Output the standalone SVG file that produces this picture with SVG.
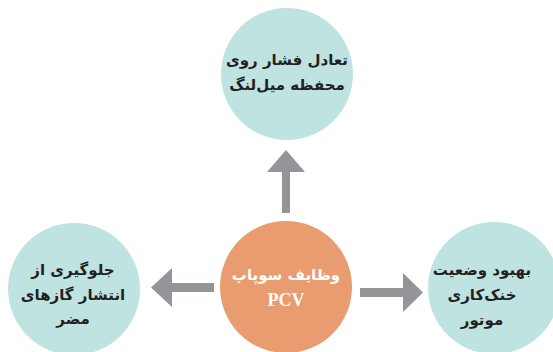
<svg xmlns="http://www.w3.org/2000/svg" width="553" height="352" viewBox="0 0 553 352">
<style>
.teal{fill:#bfe3e0}
.orange{fill:#e89c6f}
.arr{fill:#939598}
.t{font-family:"DejaVu Sans",sans-serif;font-weight:bold;font-size:15px;fill:#231f20;text-anchor:middle;direction:rtl}
.w{fill:#ffffff}
.pcv{font-family:"Liberation Serif",serif;font-weight:bold;font-size:18px;fill:#ffffff;text-anchor:middle}
</style>
<rect width="553" height="352" fill="#ffffff"/>
<g id="connectors">
<polygon class="arr" points="282,213 290,213 290,172 305,172 286,150 267,172 282,172"/>
<polygon class="arr" points="214,283 214,292 172,292 172,307 151,287.5 172,268 172,283"/>
<polygon class="arr" points="360,288 360,297 403,297 403,312 423,292.5 403,273 403,288"/>
</g>
<g id="top">
<circle class="teal" cx="287" cy="74" r="66"/>
<text class="t" x="287" y="65">تعادل فشار روی</text>
<text class="t" x="287" y="90">محفظه میل‌لنگ</text>
</g>
<g id="center">
<circle class="orange" cx="286" cy="287" r="66"/>
<text class="t w" x="286" y="280">وظایف سوپاپ</text>
<text class="pcv" x="286" y="306">PCV</text>
</g>
<g id="left">
<circle class="teal" cx="74" cy="289" r="66"/>
<text class="t" x="73" y="275">جلوگیری از</text>
<text class="t" x="73" y="300">انتشار گازهای</text>
<text class="t" x="73" y="324">مضر</text>
</g>
<g id="right">
<circle class="teal" cx="494" cy="288" r="66"/>
<text class="t" x="482" y="275">بهبود وضعیت</text>
<text class="t" x="482" y="300">خنک‌کاری</text>
<text class="t" x="482" y="325">موتور</text>
</g>
</svg>
